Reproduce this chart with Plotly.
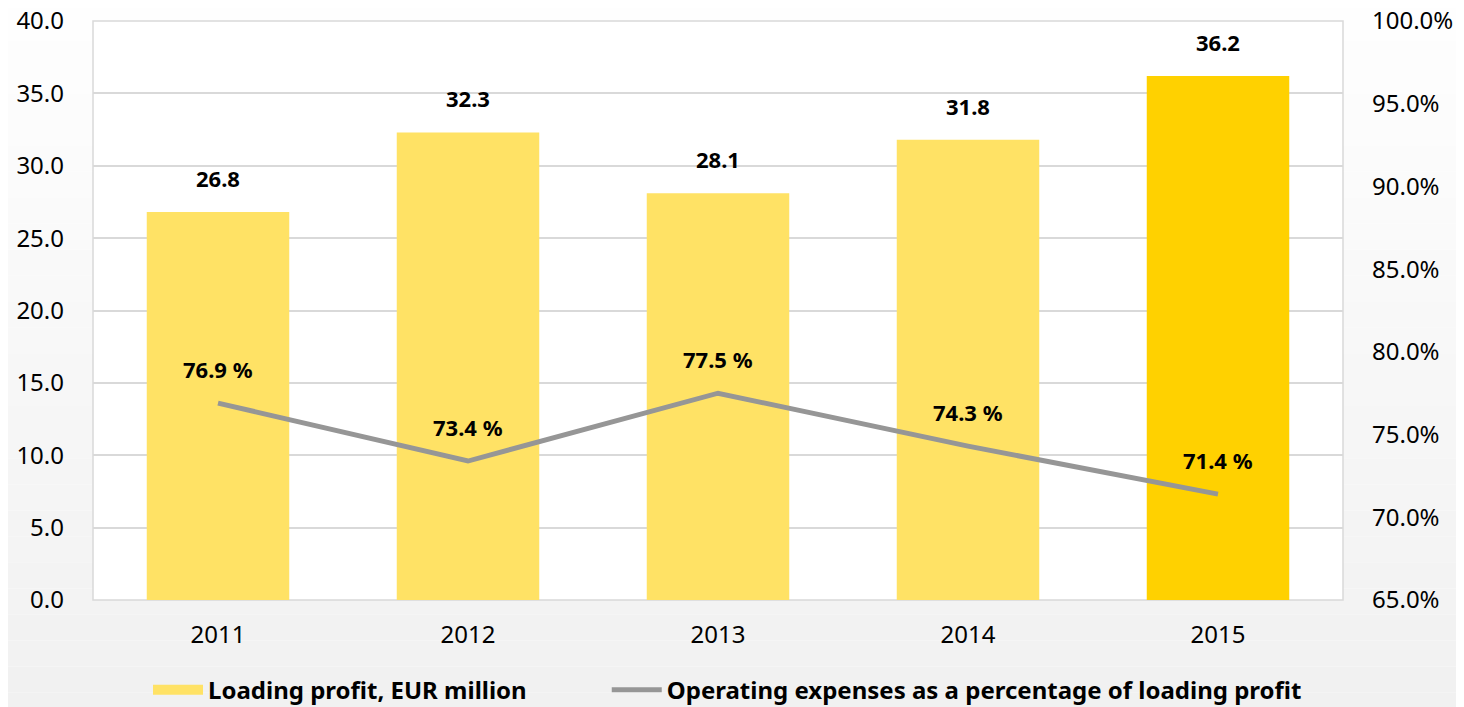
import plotly.graph_objects as go

# Datos del gráfico
years = ['2011', '2012', '2013', '2014', '2015']
loading_profit = [26.8, 32.3, 28.1, 31.8, 36.2]
opex_pct = [76.9, 73.4, 77.5, 74.3, 71.4]
bar_colors = ['#FFE265', '#FFE265', '#FFE265', '#FFE265', '#FFD100']

bar_name = 'Loading profit, EUR million'
line_name = 'Operating expenses as a percentage of loading profit'

fig = go.Figure()

fig.add_trace(go.Bar(x=years, y=loading_profit, name=bar_name, showlegend=False,
                     marker=dict(color=bar_colors, line=dict(width=0)),
                     width=0.57, yaxis='y'))

# Muestra de leyenda ancha para las barras (rectángulo como en Excel)
fig.add_trace(go.Scatter(x=[None], y=[None], name=f'<b>{bar_name}</b>', mode='lines',
                         line=dict(color='#FFE265', width=16), yaxis='y',
                         legend='legend'))

fig.add_trace(go.Scatter(x=years, y=opex_pct, name=f'<b>{line_name}</b>',
                         mode='lines', line=dict(color='#969696', width=5),
                         yaxis='y2', legend='legend2'))

# Etiquetas de valores (x como índice de categoría)
for i, v in enumerate(loading_profit):
    fig.add_annotation(x=i, y=v, yref='y', text=f'<b>{v:.1f}</b>', showarrow=False,
                       yshift=34, font=dict(size=22, color='black'))
for i, v in enumerate(opex_pct):
    fig.add_annotation(x=i, y=v, yref='y2', text=f'<b>{v:.1f} %</b>', showarrow=False,
                       yshift=34, font=dict(size=22, color='black'))

# Fondo con degradado suave (blanco arriba, gris claro abajo)
n = 30
for i in range(n):
    g = round(255 - (255 - 240) * (i / (n - 1)))
    fig.add_shape(type='rect', xref='paper', yref='paper', layer='below',
                  x0=-1, x1=2, y0=1.1 - (i + 1) * 1.35 / n, y1=1.1 - i * 1.35 / n,
                  fillcolor=f'rgb({g},{g},{g})', line=dict(width=0))
fig.add_shape(type='rect', xref='paper', yref='paper', layer='below',
              x0=0, x1=1, y0=0, y1=1, fillcolor='white', line=dict(color='#D9D9D9', width=1.5))

legend_style = dict(orientation='h', xanchor='left', y=-0.117, yanchor='top',
                    font=dict(size=24, family='Noto Sans', color='black'),
                    itemwidth=50, bgcolor='rgba(0,0,0,0)')

# El body de la página tiene 8 px de margen: se compensa en tamaño y márgenes
fig.update_layout(
    width=1456, height=699,
    margin=dict(l=85, r=121, t=13, b=107, autoexpand=False),
    paper_bgcolor='white', plot_bgcolor='rgba(0,0,0,0)',
    font=dict(family='Noto Sans', size=24, color='black'),
    showlegend=True,
    legend=dict(x=0.044, **legend_style),
    legend2=dict(x=0.411, **legend_style),
    xaxis=dict(type='category', range=[-0.5, 4.5], showgrid=False, ticks='',
               ticklabelstandoff=18, showline=False, automargin=False),
    yaxis=dict(range=[0, 40], dtick=5, tickformat='.1f', showgrid=True,
               gridcolor='#D9D9D9', gridwidth=1.5, zeroline=False, ticks='',
               ticklabelstandoff=28, automargin=False, ticklabeloverflow='allow'),
    yaxis2=dict(range=[65, 100], dtick=5, tickformat='.1f', ticksuffix='%',
                overlaying='y', side='right', showgrid=False, zeroline=False,
                ticks='', ticklabelstandoff=28, automargin=False,
                ticklabeloverflow='allow'),
)

fig.write_html("out.html")
